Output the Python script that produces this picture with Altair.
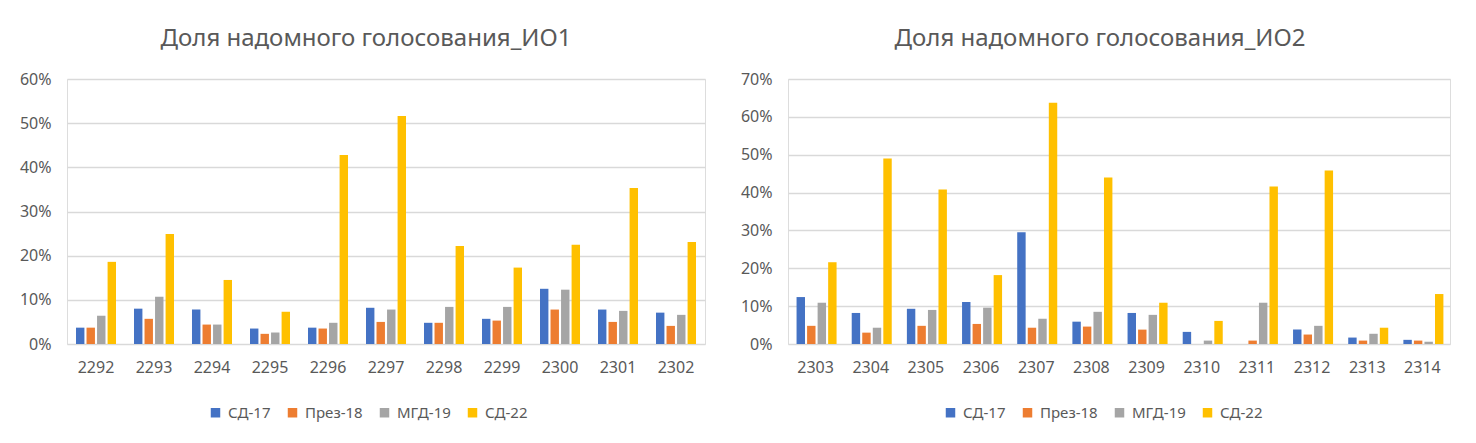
import altair as alt
import pandas as pd

series = ["СД-17", "През-18", "МГД-19", "СД-22"]
colors = ["#4472C4", "#ED7D31", "#A5A5A5", "#FFC000"]

# Chart 1 (ИО1)
cats1 = ["2292", "2293", "2294", "2295", "2296", "2297", "2298", "2299", "2300", "2301", "2302"]
sd17_1 = [0.037, 0.080, 0.078, 0.035, 0.037, 0.082, 0.048, 0.057, 0.125, 0.078, 0.071]
prez18_1 = [0.037, 0.057, 0.044, 0.023, 0.035, 0.050, 0.048, 0.053, 0.078, 0.050, 0.041]
mgd19_1 = [0.064, 0.107, 0.044, 0.026, 0.048, 0.078, 0.084, 0.084, 0.123, 0.075, 0.066]
sd22_1 = [0.186, 0.249, 0.145, 0.073, 0.428, 0.516, 0.222, 0.173, 0.225, 0.353, 0.231]

# Chart 2 (ИО2)
cats2 = ["2303", "2304", "2305", "2306", "2307", "2308", "2309", "2310", "2311", "2312", "2313", "2314"]
sd17_2 = [0.124, 0.082, 0.093, 0.111, 0.295, 0.059, 0.082, 0.032, 0.0, 0.038, 0.017, 0.011]
prez18_2 = [0.048, 0.030, 0.048, 0.053, 0.043, 0.046, 0.038, 0.0, 0.009, 0.025, 0.009, 0.009]
mgd19_2 = [0.109, 0.043, 0.090, 0.096, 0.067, 0.085, 0.077, 0.009, 0.109, 0.048, 0.027, 0.006]
sd22_2 = [0.216, 0.490, 0.408, 0.182, 0.637, 0.440, 0.109, 0.061, 0.416, 0.458, 0.043, 0.132]

title1 = "Доля надомного голосования_ИО1"
title2 = "Доля надомного голосования_ИО2"


def to_long(cats, cols):
    rows = []
    for s, vals in zip(series, cols):
        for c, v in zip(cats, vals):
            rows.append({"cat": c, "series": s, "value": v})
    return pd.DataFrame(rows)


df1 = to_long(cats1, [sd17_1, prez18_1, mgd19_1, sd22_1])
df2 = to_long(cats2, [sd17_2, prez18_2, mgd19_2, sd22_2])

FONT = "Noto Sans"
TXT = "#595959"
GRID = "#D9D9D9"


def make(df, cats, title, ymax, width, legend_x, title_dx):
    ticks = [i / 10 for i in range(0, int(round(ymax * 10)) + 1)]
    return alt.Chart(df, title=alt.Title(title, fontSize=24, font=FONT, color=TXT,
                                         fontWeight="normal", offset=20, dx=title_dx)).mark_bar().encode(
        x=alt.X("cat:N", sort=cats, title=None,
                scale=alt.Scale(paddingInner=0.31, paddingOuter=0.155),
                axis=alt.Axis(labelAngle=0, ticks=False, domain=False, labelPadding=15,
                              labelFontSize=16, labelFont=FONT, labelColor=TXT)),
        xOffset=alt.XOffset("series:N", sort=series,
                            scale=alt.Scale(paddingInner=0.2, paddingOuter=0)),
        y=alt.Y("value:Q", title=None,
                scale=alt.Scale(domain=[0, ymax], nice=False),
                axis=alt.Axis(values=ticks, format=".0%", ticks=False, domain=False,
                              labelPadding=16, minExtent=58, maxExtent=58,
                              labelFontSize=16, labelFont=FONT, labelColor=TXT,
                              gridColor=GRID, gridWidth=1.5)),
        color=alt.Color("series:N", sort=series,
                        scale=alt.Scale(domain=series, range=colors),
                        legend=alt.Legend(title=None, orient="none", direction="horizontal",
                                          legendX=legend_x, legendY=326,
                                          symbolType="square", symbolSize=90,
                                          symbolStrokeWidth=0, labelFontSize=15,
                                          labelFont=FONT, labelColor=TXT,
                                          columnPadding=14, labelOffset=5)),
    ).properties(width=width, height=265)


c1 = make(df1, cats1, title1, 0.6, 638, 141, -20)
c2 = make(df2, cats2, title2, 0.7, 662, 155, -19)

chart = alt.hconcat(c1, c2, spacing=23).resolve_legend(color="independent").resolve_scale(
    x="independent", y="independent", color="independent"
).properties(padding={"left": 0, "top": 18, "right": 0, "bottom": 0}
).configure_view(stroke=None).configure(background="white")

chart.save("out.html", embed_options={"renderer": "svg", "actions": False})
